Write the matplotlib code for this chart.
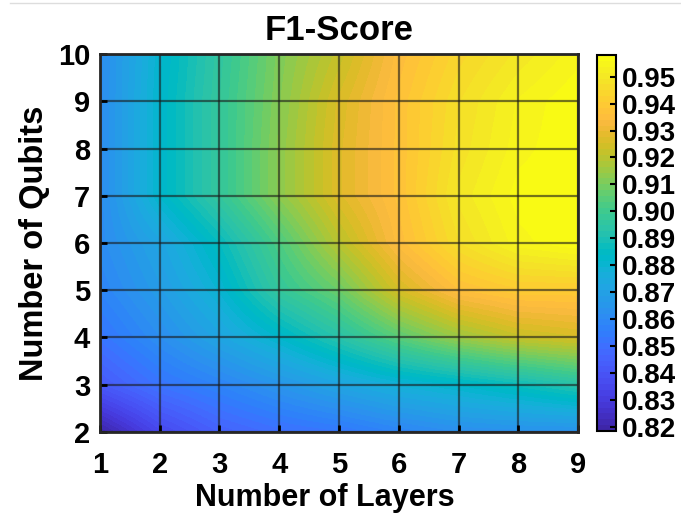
import matplotlib
matplotlib.use("Agg")
import matplotlib.pyplot as plt  # type: ignore
import numpy as np  # type: ignore
from matplotlib.colors import ListedColormap
from matplotlib.lines import Line2D

# Eixos da grade
layers = [1, 2, 3, 4, 5, 6, 7, 8, 9]
qubits = [2, 3, 4, 5, 6, 7, 8, 9, 10]

# F1-score por numero de qubits (linhas, 2 -> 10) e camadas (colunas, 1 -> 9)
f1_q2 = [0.8185, 0.835, 0.845, 0.850, 0.853, 0.858, 0.862, 0.863, 0.863]
f1_q3 = [0.842, 0.852, 0.858, 0.865, 0.872, 0.878, 0.882, 0.887, 0.893]
f1_q4 = [0.852, 0.862, 0.872, 0.882, 0.893, 0.905, 0.915, 0.922, 0.925]
f1_q5 = [0.858, 0.868, 0.880, 0.897, 0.908, 0.925, 0.936, 0.940, 0.940]
f1_q6 = [0.861, 0.872, 0.886, 0.903, 0.920, 0.935, 0.947, 0.955, 0.958]
f1_q7 = [0.861, 0.882, 0.897, 0.913, 0.927, 0.937, 0.950, 0.957, 0.958]
f1_q8 = [0.861, 0.882, 0.897, 0.913, 0.927, 0.937, 0.948, 0.955, 0.958]
f1_q9 = [0.861, 0.882, 0.897, 0.912, 0.926, 0.937, 0.947, 0.954, 0.958]
f1_q10 = [0.861, 0.881, 0.896, 0.911, 0.922, 0.935, 0.944, 0.950, 0.955]

cbar_ticks = [0.82, 0.83, 0.84, 0.85, 0.86, 0.87, 0.88, 0.89, 0.90,
              0.91, 0.92, 0.93, 0.94, 0.95]

# Parula (MATLAB) aproximado
PARULA = [
    [0.2422, 0.1504, 0.6603], [0.2504, 0.1650, 0.7076], [0.2578, 0.1818, 0.7511],
    [0.2647, 0.1978, 0.7952], [0.2706, 0.2147, 0.8364], [0.2751, 0.2342, 0.8710],
    [0.2783, 0.2559, 0.8991], [0.2803, 0.2782, 0.9221], [0.2813, 0.3006, 0.9414],
    [0.2810, 0.3228, 0.9579], [0.2795, 0.3447, 0.9717], [0.2760, 0.3667, 0.9829],
    [0.2699, 0.3892, 0.9906], [0.2602, 0.4123, 0.9952], [0.2440, 0.4358, 0.9988],
    [0.2206, 0.4603, 0.9973], [0.1963, 0.4847, 0.9892], [0.1834, 0.5074, 0.9798],
    [0.1786, 0.5289, 0.9682], [0.1764, 0.5499, 0.9520], [0.1687, 0.5703, 0.9359],
    [0.1540, 0.5902, 0.9218], [0.1460, 0.6091, 0.9079], [0.1380, 0.6276, 0.8973],
    [0.1248, 0.6459, 0.8883], [0.1113, 0.6635, 0.8763], [0.0952, 0.6798, 0.8598],
    [0.0689, 0.6948, 0.8394], [0.0297, 0.7082, 0.8163], [0.0036, 0.7203, 0.7917],
    [0.0067, 0.7312, 0.7660], [0.0433, 0.7411, 0.7394], [0.0964, 0.7500, 0.7120],
    [0.1408, 0.7584, 0.6842], [0.1717, 0.7670, 0.6554], [0.1938, 0.7758, 0.6251],
    [0.2161, 0.7843, 0.5923], [0.2470, 0.7918, 0.5567], [0.2906, 0.7973, 0.5188],
    [0.3406, 0.8008, 0.4789], [0.3909, 0.8029, 0.4354], [0.4456, 0.8024, 0.3909],
    [0.5044, 0.7993, 0.3480], [0.5616, 0.7942, 0.3045], [0.6174, 0.7876, 0.2612],
    [0.6720, 0.7793, 0.2227], [0.7242, 0.7698, 0.1910], [0.7738, 0.7598, 0.1646],
    [0.8203, 0.7498, 0.1535], [0.8634, 0.7406, 0.1596], [0.9035, 0.7330, 0.1774],
    [0.9393, 0.7288, 0.2100], [0.9728, 0.7298, 0.2394], [0.9956, 0.7434, 0.2371],
    [0.9970, 0.7659, 0.2199], [0.9952, 0.7893, 0.2028], [0.9892, 0.8136, 0.1885],
    [0.9786, 0.8386, 0.1766], [0.9676, 0.8639, 0.1643], [0.9610, 0.8890, 0.1537],
    [0.9597, 0.9135, 0.1423], [0.9628, 0.9373, 0.1265], [0.9691, 0.9606, 0.1064],
    [0.9769, 0.9839, 0.0805],
]
parula = ListedColormap(PARULA, name="parula")

plt.rcParams["font.family"] = ["Liberation Sans", "DejaVu Sans"]
plt.rcParams["font.weight"] = "bold"

f1 = np.array([f1_q2, f1_q3, f1_q4, f1_q5, f1_q6, f1_q7, f1_q8, f1_q9, f1_q10])

fig = plt.figure(figsize=(6.81, 5.15), dpi=100)
ax = fig.add_axes([0.1468, 0.1612, 0.7020, 0.7339])
cax = fig.add_axes([0.8767, 0.1631, 0.0279, 0.7300])

# superficie interpolada (como shading interp do MATLAB)
dx = (layers[1] - layers[0]) / 2
dy = (qubits[1] - qubits[0]) / 2
img = ax.imshow(
    f1,
    origin="lower",
    aspect="auto",
    interpolation="bilinear",
    cmap=parula,
    vmin=f1.min(),
    vmax=f1.max(),
    extent=[layers[0] - dx, layers[-1] + dx, qubits[0] - dy, qubits[-1] + dy],
)
ax.set_xlim(layers[0], layers[-1])
ax.set_ylim(qubits[0], qubits[-1])
ax.set_xticks(layers)
ax.set_yticks(qubits)
ax.grid(True, color="#1a1a1a", alpha=0.6, linewidth=1.6)
ax.tick_params(direction="in", length=5, width=2, labelsize=21)
ax.tick_params(axis="x", pad=14)
ax.tick_params(axis="y", pad=7)
for s in ax.spines.values():
    s.set_linewidth(2)
    s.set_color("#262626")

ax.set_title("F1-Score", fontsize=25, fontweight="bold", pad=10)
ax.set_xlabel("Number of Layers", fontsize=22, fontweight="bold", labelpad=6)
ax.set_ylabel("Number of Qubits", fontsize=23.5, fontweight="bold", labelpad=6)
ax.xaxis.set_label_coords(0.47, -0.135)

cb = fig.colorbar(img, cax=cax, ticks=cbar_ticks, format="%.2f")
cb.ax.tick_params(direction="in", length=4, width=1.5, labelsize=20, pad=4)
cb.outline.set_linewidth(1.5)

# linha fina no topo (recorte da captura)
fig.add_artist(Line2D([0.015, 1.0], [0.994, 0.994], color="#dddddd", linewidth=1))

fig.savefig("out.png", dpi=100)
